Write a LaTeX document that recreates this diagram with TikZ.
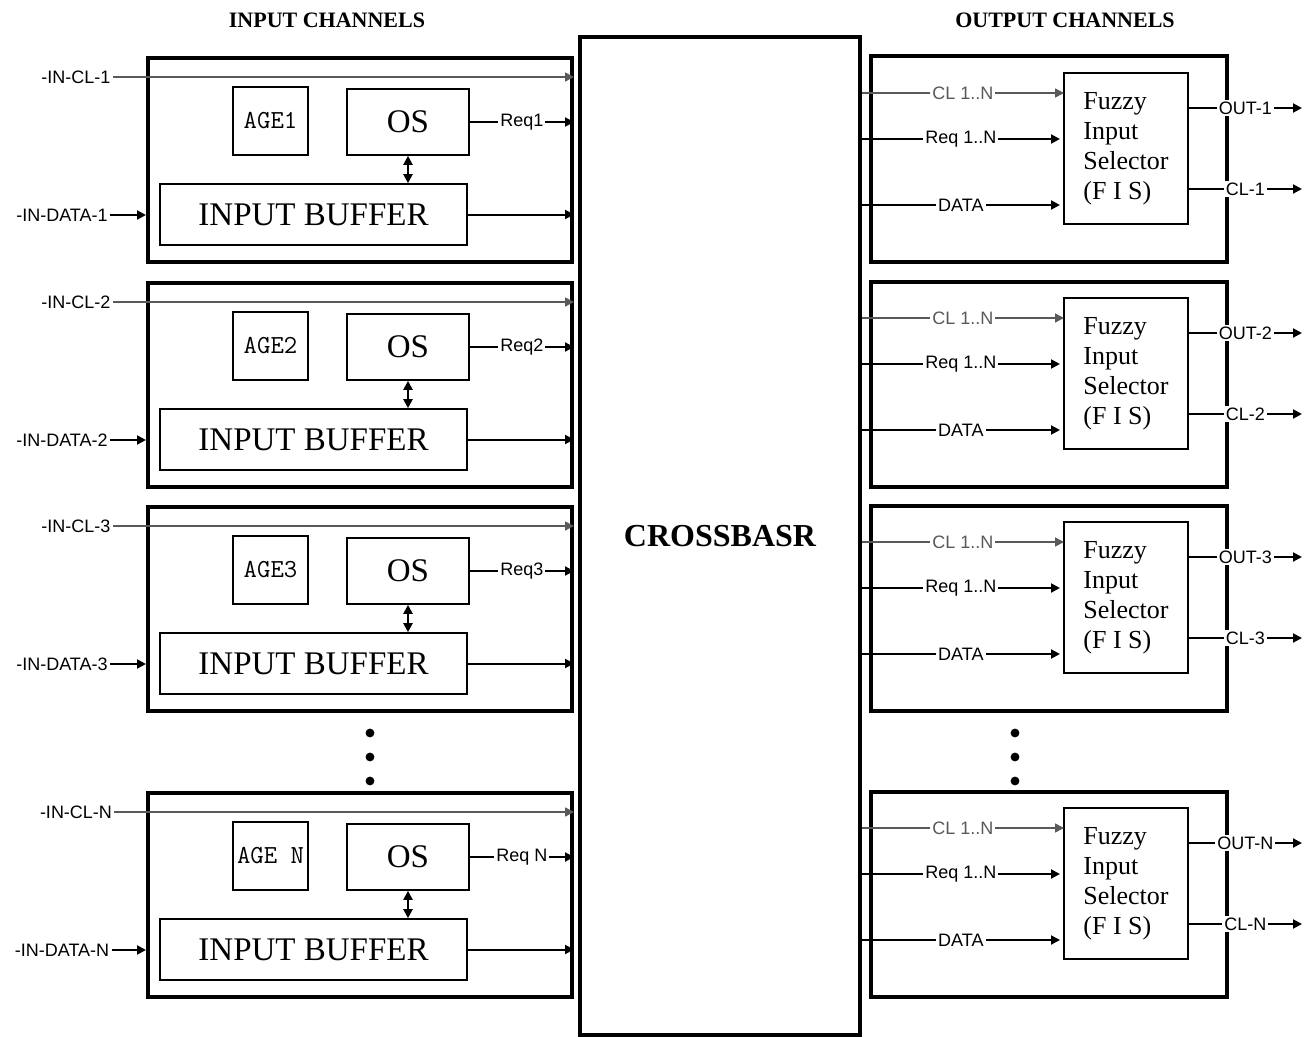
\documentclass[tikz,border=0pt]{standalone}
\usepackage{fontspec}
\setmainfont{Liberation Serif}
\setsansfont{Liberation Sans}
\usetikzlibrary{arrows.meta}

\begin{document}
\begin{tikzpicture}[x=0.5pt,y=-0.5pt,>={Triangle[length=4.5pt,width=4.5pt]},
  chbox/.style={draw,line width=2pt,minimum width=212pt,minimum height=102pt,inner sep=0pt},
  outbox/.style={draw,line width=2pt,minimum width=178pt,minimum height=102.5pt,inner sep=0pt},
  blk/.style={draw,line width=0.8pt,inner sep=0pt,font=\fontsize{16.5}{18}\selectfont},
  agebox/.style={draw,line width=0.8pt,minimum width=37.5pt,minimum height=34pt,inner sep=0pt,font=\ttfamily\fontsize{13}{14}\selectfont},
  fisbox/.style={draw,line width=0.8pt,minimum width=62pt,minimum height=75.5pt,inner sep=0pt,align=left,font=\fontsize{13}{15}\selectfont},
  sig/.style={font=\sffamily\fontsize{9}{10}\selectfont,inner sep=1pt},
  lbl/.style={sig,fill=white},
  wire/.style={line width=1pt},
  clwire/.style={line width=0.8pt,black!65},
  ttl/.style={font=\bfseries\fontsize{11}{13}\selectfont}]
  \useasboundingbox (0,0) rectangle (1307,1038);

  \node[ttl] (intitle) at (327,20) {INPUT CHANNELS};
  \node[ttl] (outtitle) at (1065,20) {OUTPUT CHANNELS};
  \node[draw,line width=1.8pt,minimum width=140pt,minimum height=499pt,font=\bfseries\fontsize{16}{18}\selectfont] (xbar) at (720,536) {CROSSBASR};

  % input channels
  \foreach \i/\d/\n/\a/\r in {1/0/1/AGE1/Req1, 2/225/2/AGE2/Req2, 3/449/3/AGE3/Req3, 4/735/N/AGE N/Req N} {
    \node[chbox] (in\i) at (360,160+\d) {};
    \node[agebox] (age\i) at (270.5,121+\d) {\a};
    \node[blk,minimum width=61pt,minimum height=33pt] (os\i) at (408,122+\d) {OS};
    \node[blk,minimum width=153.5pt,minimum height=30.5pt] (buf\i) at (313.5,214.5+\d) {INPUT BUFFER};
    \node[sig] (incl\i) at (76,77+\d) {-IN-CL-\n};
    \node[sig] (indata\i) at (62,215+\d) {-IN-DATA-\n};
    \draw[clwire,->] (incl\i) -- (incl\i -| in\i.east);
    \draw[wire,->] (indata\i) -- (indata\i -| in\i.west);
    \draw[wire,->] (os\i) -- node[lbl]{\r} (os\i -| in\i.east);
    \draw[wire,<->] (os\i) -- (buf\i.north -| os\i);
    \draw[wire,->] (buf\i) -- (buf\i -| in\i.east);
  }

  % output channels
  \foreach \i/\d/\n in {1/0/1, 2/225/2, 3/449/3, 4/735/N} {
    \node[outbox] (out\i) at (1049,159+\d) {};
    \node[fisbox] (fis\i) at (1126,148.5+\d) {Fuzzy\\Input\\Selector\\(F I S)};
    \coordinate (fcl\i) at (1064,93+\d);
    \coordinate (freq\i) at (1060,139+\d);
    \coordinate (fdat\i) at (1060,205+\d);
    \coordinate (oout\i) at (1302,108+\d);
    \coordinate (ocl\i) at (1302,189+\d);
    \draw[clwire,->] (fcl\i -| xbar.east) -- node[lbl]{CL 1..N} (fcl\i);
    \draw[wire,->] (freq\i -| xbar.east) -- node[lbl]{Req 1..N} (freq\i);
    \draw[wire,->] (fdat\i -| xbar.east) -- node[lbl]{DATA} (fdat\i);
    \draw[wire,->] (fis\i.east |- oout\i) -- node[lbl]{OUT-\n} (oout\i);
    \draw[wire,->] (fis\i.east |- ocl\i) -- node[lbl]{CL-\n} (ocl\i);
  }

  % dots
  \foreach \y in {733,757,781} {
    \fill (370,\y) circle[radius=2.2pt];
    \fill (1015,\y) circle[radius=2.2pt];
  }
\end{tikzpicture}
\end{document}
